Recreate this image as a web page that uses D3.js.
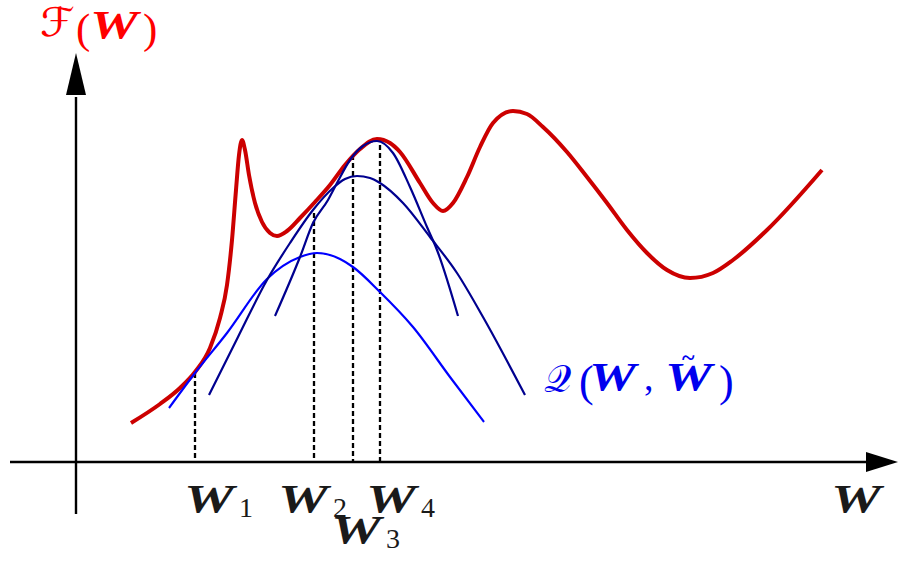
<!DOCTYPE html>
<html>
<head>
<meta charset="utf-8">
<script src="https://cdn.jsdelivr.net/npm/d3@7"></script>
<style>
  body { margin: 0; background: #fff; }
  svg { display: block; }
</style>
</head>
<body>
<svg id="chart" width="899" height="563"></svg>
<script>
// objective F(W)
const fX = [5.5, 8.4, 10.4, 11.9, 13.4, 14.4, 15.1, 15.6, 16.0, 16.3, 16.6, 16.9, 17.3, 17.9, 18.6, 19.4, 20.1, 21.1, 22.4, 23.9, 25.4, 26.9, 28.4, 30.1, 31.4, 32.4, 34.4, 35.7, 36.7, 37.7, 39.1, 40.4, 41.7, 43.7, 45.1, 46.7, 49.1, 51.1, 53.1, 55.1, 57.1, 59.1, 61.4, 63.7, 65.7, 69.1, 74.6];
const fY = [3.9, 5.8, 7.4, 9.0, 11.4, 14.4, 17.7, 22.2, 27.2, 30.7, 32.2, 31.2, 28.7, 25.9, 24.0, 22.9, 22.6, 23.1, 24.4, 26.0, 27.7, 29.7, 31.3, 32.3, 31.9, 31.0, 27.9, 25.9, 25.1, 25.9, 28.5, 31.5, 33.9, 35.1, 34.8, 33.5, 31.0, 28.5, 25.9, 23.2, 20.9, 19.2, 18.4, 18.9, 20.2, 23.2, 29.2];

// lower bounds Q(W, W~) at successive iterates
const q1X = [9.3, 11.9, 15.1, 19.1, 22.4, 24.1, 26.4, 27.7, 30.4, 33.7, 37.4, 40.8];
const q1Y = [5.4, 8.9, 12.9, 18.3, 20.5, 20.9, 20.3, 19.5, 17.0, 13.5, 8.5, 4.0];
const q2X = [13.3, 16.2, 19.1, 21.4, 23.7, 25.7, 26.9, 28.1, 29.4, 30.4, 32.7, 35.4, 38.1, 40.7, 44.9];
const q2Y = [6.7, 12.5, 18.2, 21.9, 25.2, 27.4, 28.3, 28.6, 28.4, 27.9, 25.9, 22.5, 18.9, 14.5, 6.7];
const q3X = [19.9, 22.4, 23.7, 25.2, 26.1, 27.4, 28.7, 30.1, 31.7, 33.4, 35.1, 36.1, 38.2];
const q3Y = [14.6, 20.5, 23.9, 26.2, 27.9, 30.2, 31.6, 32.1, 30.9, 27.5, 23.5, 21.2, 14.6];

// iterates W1..W4
const wX = [11.9, 23.8, 27.7, 30.4];
const wTop = [8.9, 24.9, 30.7, 31.7];
const wSub = ["1", "2", "3", "4"];

const svg = d3.select("#chart");
const x = d3.scaleLinear().domain([0, 82.2]).range([76, 898]);
const y = d3.scaleLinear().domain([0, 46.2]).range([462, 0]);

const line = d3.line()
  .x((d) => x(d[0]))
  .y((d) => y(d[1]))
  .curve(d3.curveMonotoneX);

// axes
svg.append("line")
  .attr("x1", x(-6.6)).attr("x2", x(79))
  .attr("y1", y(0)).attr("y2", y(0))
  .attr("stroke", "#000").attr("stroke-width", 2.4);
svg.append("line")
  .attr("x1", x(0)).attr("x2", x(0))
  .attr("y1", y(-5.2)).attr("y2", y(36.5))
  .attr("stroke", "#000").attr("stroke-width", 2.4);
svg.append("path")
  .attr("d", `M${x(82.2)},${y(0)} L${x(79)},${y(1)} L${x(79)},${y(-1)} Z`)
  .attr("fill", "#000");
svg.append("path")
  .attr("d", `M${x(0)},${y(40.9)} L${x(-1)},${y(36.7)} L${x(1)},${y(36.7)} Z`)
  .attr("fill", "#000");

// dashed drop lines
svg.selectAll("line.drop")
  .data(wX)
  .enter()
  .append("line")
  .classed("drop", true)
  .attr("x1", (d) => x(d)).attr("x2", (d) => x(d))
  .attr("y1", (d, i) => y(wTop[i])).attr("y2", y(0))
  .attr("stroke", "#000")
  .attr("stroke-width", 2.3)
  .attr("stroke-dasharray", "5,3");

// F curve
svg.append("path")
  .attr("d", line(fX.map((v, i) => [v, fY[i]])))
  .attr("fill", "none")
  .attr("stroke", "#cc0000")
  .attr("stroke-width", 4)
  .attr("stroke-linejoin", "round");

// Q curves
const qs = [
  [q1X, q1Y, "#0000ff"],
  [q2X, q2Y, "#00008f"],
  [q3X, q3Y, "#00008f"]
];
qs.forEach(([qx, qy, c]) => {
  svg.append("path")
    .attr("d", line(qx.map((v, i) => [v, qy[i]])))
    .attr("fill", "none")
    .attr("stroke", c)
    .attr("stroke-width", 2.2);
});

// labels
const serif = "'Liberation Serif', 'Times New Roman', serif";
function boldW(px, py, color, size, len) {
  svg.append("text")
    .attr("x", px).attr("y", py)
    .attr("font-family", serif)
    .attr("font-weight", "bold")
    .attr("font-style", "italic")
    .attr("font-size", size)
    .attr("textLength", len)
    .attr("lengthAdjust", "spacingAndGlyphs")
    .attr("fill", color)
    .text("W");
}
function plain(px, py, txt, size, color, family) {
  return svg.append("text")
    .attr("x", px).attr("y", py)
    .attr("font-family", family || serif)
    .attr("font-size", size)
    .attr("fill", color)
    .text(txt);
}

const ink = "#1a1a1a";
const labelDx = [-11, -36, -22, -14];
const labelRow = [0, 0, 1, 0];
wX.forEach((v, i) => {
  const lx = x(v) + labelDx[i];
  const ly = 512 + labelRow[i] * 31;
  boldW(lx, ly, ink, 40, 50);
  plain(lx + 55, ly + 5, wSub[i], 28, ink);
});

// axis name
boldW(831, 512, ink, 40, 50);

// F(W)
plain(40, 36, "\u2131", 40, "#ff0000", "'DejaVu Sans', sans-serif")
  .attr("font-style", "italic")
  .attr("textLength", 35)
  .attr("lengthAdjust", "spacingAndGlyphs");
plain(76, 43, "(", 43, "#ff0000");
boldW(90, 38, "#ff0000", 40, 48);
plain(143, 43, ")", 43, "#ff0000");

// Q(W, W~)
const qc = "#0000ee";
plain(544, 392, "\u{1D4AC}", 38, qc, "'DejaVu Sans', 'Noto Sans', serif");
plain(579, 396, "(", 44, qc);
boldW(589, 390, qc, 40, 47);
plain(644, 390, ",", 38, qc);
boldW(665, 390, qc, 40, 47);
plain(682, 365, "~", 24, qc).attr("font-weight", "bold");
plain(719, 396, ")", 44, qc);
</script>
</body>
</html>
